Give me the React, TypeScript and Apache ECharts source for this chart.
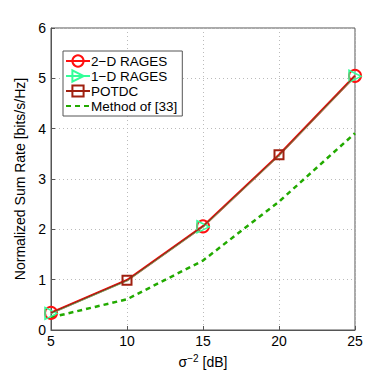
import React, { useEffect, useRef } from "react";
import * as echarts from "echarts";

const snr = [5, 10, 15, 20, 25];
const rages2d = [0.34, 0.99, 2.06, 3.48, 5.05];
const rages1d = [0.33, 0.98, 2.05, 3.47, 5.04];
const potdc = [0.34, 0.99, 2.06, 3.48, 5.05];
const method33 = [0.25, 0.61, 1.38, 2.55, 3.91];
const yTicks = [0, 1, 2, 3, 4, 5, 6];
const xTicks = [5, 10, 15, 20, 25];

// indices where markers are shown
const markIdxA = [0, 2, 4];
const markIdxB = [1, 3];

const FONT = "Liberation Sans";

export default function App() {
  const ref = useRef<HTMLDivElement>(null);
  useEffect(() => {
    const chart = echarts.init(ref.current!, undefined, { renderer: "svg" });
    const mk = (vals: number[], idx: number[]) =>
      vals.map((v, i) => ({ value: [snr[i], v], symbol: idx.includes(i) ? undefined : "none" }));
    chart.setOption({
      animation: false,
      backgroundColor: "#fff",
      grid: { left: 51, right: 37, top: 28, bottom: 42, show: true, borderColor: "#555", borderWidth: 1 },
      legend: {
        left: 63,
        top: 51,
        orient: "vertical",
        itemGap: 1,
        itemWidth: 24,
        itemHeight: 14,
        padding: [3, 5, 3, 2],
        backgroundColor: "#fff",
        borderColor: "#555",
        borderWidth: 1,
        borderRadius: 0,
        textStyle: { fontFamily: FONT, fontSize: 13.5, color: "#000", padding: [0, 0, 0, -4] },
        data: [
          { name: "2\u2212D RAGES" },
          { name: "1\u2212D RAGES" },
          { name: "POTDC" },
          { name: "Method of [33]", itemStyle: { opacity: 0 } },
        ],
      },
      xAxis: {
        type: "value",
        min: 5,
        max: 25,
        interval: 5,
        axisLine: { show: true, lineStyle: { color: "#555" } },
        axisTick: { inside: true, length: 4, lineStyle: { color: "#555" } },
        axisLabel: { fontFamily: FONT, fontSize: 14, color: "#000", margin: 4, formatter: (v: number) => (xTicks.includes(v) ? String(v) : "") },
        splitLine: { show: true, lineStyle: { type: [1, 3], color: "#bbb" } },
        name: "{s|\u03c3}{sup|\u22122}{s| [dB]}",
        nameLocation: "middle",
        nameGap: 23,
        nameTextStyle: {
          fontFamily: FONT,
          rich: {
            s: { fontFamily: FONT, fontSize: 14, color: "#000" },
            sup: { fontFamily: FONT, fontSize: 10, color: "#000", verticalAlign: "top", padding: [0, 0, 8, 0] },
          },
        },
      },
      yAxis: {
        type: "value",
        min: 0,
        max: 6,
        interval: 1,
        axisLine: { show: true, lineStyle: { color: "#555" } },
        axisTick: { inside: true, length: 4, lineStyle: { color: "#555" } },
        axisLabel: { fontFamily: FONT, fontSize: 14, color: "#000", margin: 5, formatter: (v: number) => (yTicks.includes(v) ? String(v) : "") },
        splitLine: { show: true, lineStyle: { type: [1, 3], color: "#bbb" } },
        name: "Normalized Sum Rate [bits/s/Hz]",
        nameLocation: "middle",
        nameGap: 22,
        nameTextStyle: { fontFamily: FONT, fontSize: 14, color: "#000" },
      },
      series: [
        {
          name: "2\u2212D RAGES",
          type: "line",
          data: mk(rages2d, markIdxA),
          symbol: "circle",
          symbolSize: 12,
          lineStyle: { color: "#ff1010", width: 2.5 },
          itemStyle: { color: "rgba(255,255,255,0)", borderColor: "#ff1010", borderWidth: 2 },
          z: 2,
        },
        {
          name: "1\u2212D RAGES",
          type: "line",
          data: mk(rages1d, markIdxA),
          symbol: "triangle",
          symbolRotate: -90,
          symbolSize: 12,
          lineStyle: { color: "#33ff99", width: 1.2 },
          itemStyle: { color: "rgba(255,255,255,0)", borderColor: "#33ff99", borderWidth: 1.5 },
          z: 3,
        },
        {
          name: "POTDC",
          type: "line",
          data: mk(potdc, markIdxB),
          symbol: "rect",
          symbolSize: 9,
          lineStyle: { color: "#a02010", width: 1.2 },
          itemStyle: { color: "rgba(255,255,255,0)", borderColor: "#a02010", borderWidth: 2 },
          z: 4,
        },
        {
          name: "Method of [33]",
          type: "line",
          data: snr.map((x, i) => [x, method33[i]]),
          symbol: "none",
          lineStyle: { color: "#22aa00", width: 2.5, type: [5, 4] },
          itemStyle: { color: "#22aa00" },
          z: 1,
        },
      ],
    });
    return () => chart.dispose();
  }, []);
  return <div ref={ref} style={{ position: "absolute", left: 0, top: 0, width: 392, height: 374 }} />;
}
